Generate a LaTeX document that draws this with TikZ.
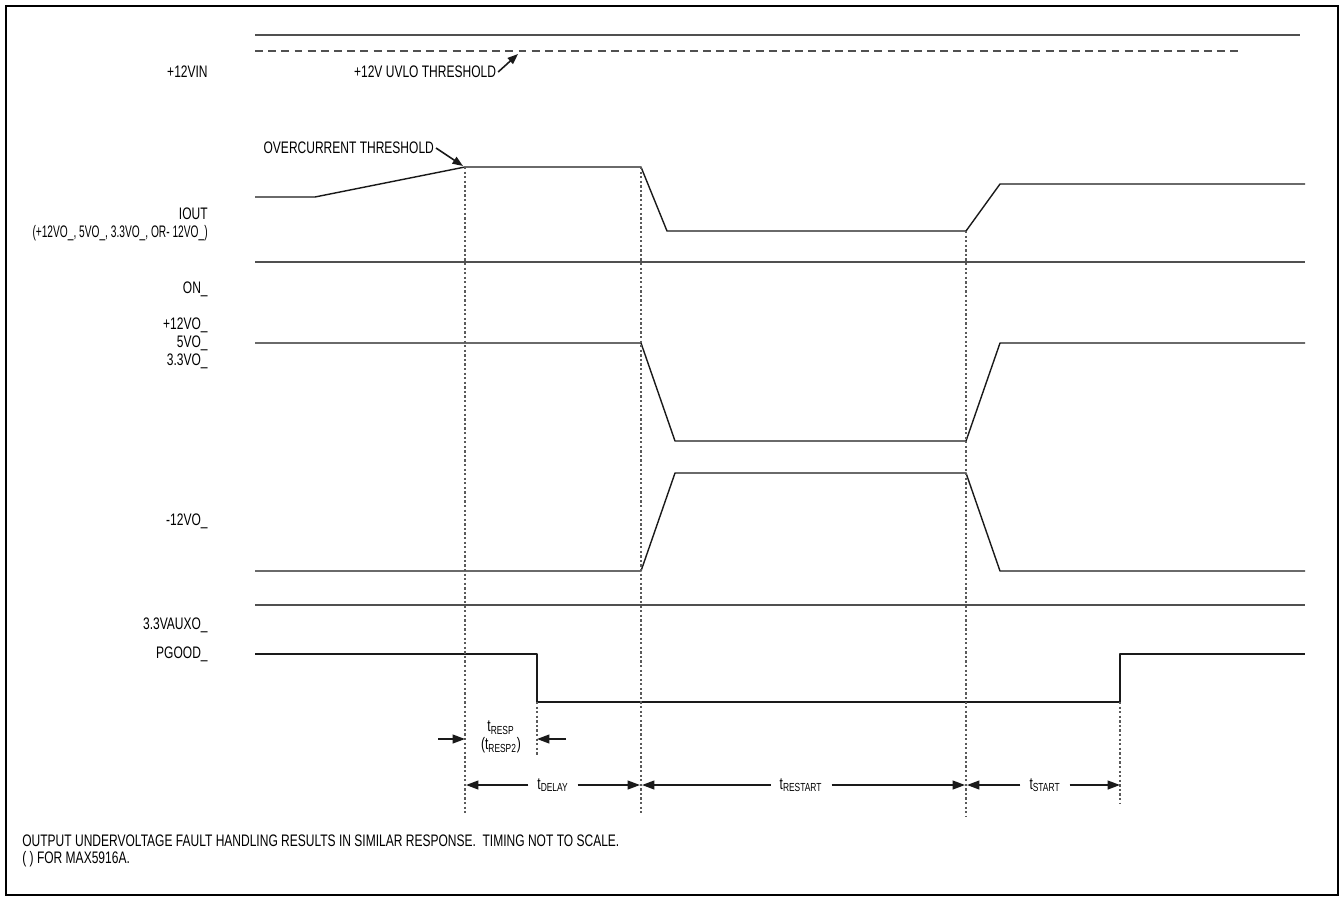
\documentclass[tikz,border=0pt]{standalone}
\usepackage{fontspec}
\setmainfont{Liberation Sans}[FakeStretch=0.72]
\newfontfamily\tightfont{Liberation Sans}[FakeStretch=0.61]
\usetikzlibrary{arrows.meta,positioning}
\definecolor{WaveCol}{HTML}{1A1A1A}
\definecolor{RailCol}{HTML}{505050}
\definecolor{GuideCol}{HTML}{5A5A5A}

\begin{document}
\begin{tikzpicture}[x=0.02cm,y=-0.02cm,font=\fontsize{9.5}{10.2}\selectfont,
    wave/.style={line width=0.8pt,WaveCol,line join=round},
    rail/.style={line width=0.9pt,RailCol},
    guide/.style={line width=0.6pt,GuideCol,dash pattern=on 1.3pt off 1.3pt},
    tip/.style={-{Triangle[length=7pt,width=5pt]},line width=0.9pt,WaveCol},
    lbl/.style={anchor=east,inner sep=0pt,align=right},
    dim/.style={inner sep=5pt}]
  \useasboundingbox (0,0) rectangle (1341,897);
  \draw[line width=1.2pt] (6,6) rectangle (1338,895);

  % signal names
  \node[lbl] (vin)   at (208,72)  {+12VIN};
  \node[lbl] (iout)  at (208,224) {IOUT\\{\tightfont(+12VO\_, 5VO\_, 3.3VO\_, OR- 12VO\_)}};
  \node[lbl] (on)    at (208,289) {ON\_};
  \node[lbl] (vpos)  at (208,343) {+12VO\_\\5VO\_\\3.3VO\_};
  \node[lbl] (vneg)  at (208,521) {-12VO\_};
  \node[lbl] (aux)   at (208,625) {3.3VAUXO\_};
  \node[lbl] (pgood) at (208,654) {PGOOD\_};

  % +12VIN
  \draw[rail] (255,35) -- (1300,35);
  \draw[rail,dash pattern=on 4.5pt off 3pt] (255,51) -- (1240,51);
  \node[anchor=west,inner sep=1pt] (uvlo) at (352,72) {+12V UVLO THRESHOLD};
  \coordinate (uvlopt) at (518,54);
  \draw[tip,-{Triangle[length=6pt,width=4.5pt]}] (uvlo.east) -- (uvlopt);

  % IOUT
  \draw[wave] (255,197) -- (315,197) -- (465,167) -- (641,167) -- (667,231)
    -- (966,231) -- (1000,184) -- (1305,184);
  \node[anchor=east,inner sep=1pt] (ocl) at (436,148) {OVERCURRENT THRESHOLD};
  \coordinate (ocpt) at (463,166);
  \draw[tip,-{Triangle[length=6pt,width=4.5pt]}] (ocl.east) -- (ocpt);

  % ON_ and 3.3VAUXO_
  \draw[rail] (255,262) -- (1305,262);
  \draw[rail] (255,605) -- (1305,605);

  % outputs
  \draw[wave] (255,343) -- (641,343) -- (675,441) -- (966,441) -- (1000,343) -- (1305,343);
  \draw[wave] (255,571) -- (641,571) -- (675,473) -- (966,473) -- (1000,571) -- (1305,571);

  % PGOOD_
  \draw[wave] (255,654) -- (537,654) -- (537,702) -- (1120,702) -- (1120,654) -- (1305,654);

  % time marks
  \coordinate (ocTop)  at (465,167);
  \coordinate (ocBot)  at (465,815);
  \coordinate (offTop) at (641,167);
  \coordinate (offBot) at (641,815);
  \coordinate (rsTop)  at (966,231);
  \coordinate (rsBot)  at (966,817);
  \coordinate (pgTop)  at (537,702);
  \coordinate (pgBot)  at (537,755);
  \coordinate (stTop)  at (1120,702);
  \coordinate (stBot)  at (1120,803);
  \draw[guide] (ocTop) -- (ocBot);
  \draw[guide] (offTop) -- (offBot);
  \draw[guide] (rsTop) -- (rsBot);
  \draw[guide] (pgTop) -- (pgBot);
  \draw[guide] (stTop) -- (stBot);

  % tRESP
  \node[align=center,inner sep=0pt] (tresp) at (501,737)
    {t\textsubscript{RESP}\\(t\textsubscript{RESP2})};
  \coordinate (rspL) at (438,739);
  \coordinate (rspA) at (465,739);
  \coordinate (rspR) at (566,739);
  \coordinate (rspB) at (537,739);
  \draw[tip] (rspL) -- (rspA);
  \draw[tip] (rspR) -- (rspB);

  % intervals
  \coordinate (m1) at (466,785);
  \coordinate (m2) at (640,785);
  \coordinate (m3) at (642,785);
  \coordinate (m4) at (965,785);
  \coordinate (m5) at (967,785);
  \coordinate (m6) at (1120,785);
  \node[dim] (tdelay)   at (553,785)  {t\textsubscript{DELAY}};
  \node[dim] (trestart) at (801,785)  {t\textsubscript{RESTART}};
  \node[dim] (tstart)   at (1045,785) {t\textsubscript{START}};
  \draw[tip] (tdelay.west) -- (m1);
  \draw[tip] (tdelay.east) -- (m2);
  \draw[tip] (trestart.west) -- (m3);
  \draw[tip] (trestart.east) -- (m4);
  \draw[tip] (tstart.west) -- (m5);
  \draw[tip] (tstart.east) -- (m6);

  \node[anchor=west,align=left,inner sep=0pt,font=\fontsize{9.5}{9.7}\selectfont] (note) at (22,851)
    {OUTPUT UNDERVOLTAGE FAULT HANDLING RESULTS IN SIMILAR RESPONSE.\ \ TIMING NOT TO SCALE.\\( ) FOR MAX5916A.};
\end{tikzpicture}
\end{document}
